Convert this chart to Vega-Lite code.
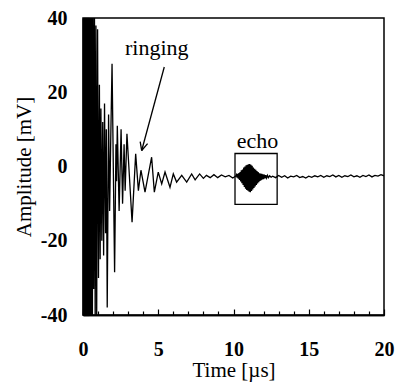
{
  "$schema": "https://vega.github.io/schema/vega-lite/v6.json",
  "width": 301,
  "height": 297,
  "autosize": "none",
  "padding": {"left": 83, "top": 18, "right": 15, "bottom": 69},
  "background": "white",
  "config": {
    "view": {"stroke": "black", "strokeWidth": 1.5},
    "font": "Liberation Serif",
    "axis": {
      "grid": false,
      "domainColor": "black",
      "domainWidth": 1.5,
      "tickColor": "black",
      "tickWidth": 1.2,
      "tickSize": -5,
      "labelColor": "black",
      "labelFont": "Liberation Serif",
      "labelFontSize": 20,
      "labelFontWeight": "bold",
      "titleColor": "black",
      "titleFont": "Liberation Serif",
      "titleFontSize": 21,
      "titleFontWeight": "normal"
    }
  },
  "resolve": {"axis": {"x": "independent", "y": "independent"}},
  "datasets": {
    "wave": [
      {"t":0,"v":0},{"t":0.02,"v":60},{"t":0.06,"v":-60},{"t":0.1,"v":60},{"t":0.14,"v":-60},{"t":0.18,"v":60},{"t":0.22,"v":-60},{"t":0.26,"v":60},{"t":0.3,"v":-60},{"t":0.34,"v":60},{"t":0.38,"v":-60},{"t":0.42,"v":60},{"t":0.46,"v":-60},{"t":0.5,"v":60},{"t":0.54,"v":-60},{"t":0.58,"v":60},{"t":0.62,"v":-55},{"t":0.66,"v":50},
      {"t":0.71,"v":-33},{"t":0.76,"v":46},{"t":0.81,"v":-44},{"t":0.86,"v":38},{"t":0.91,"v":-40},{"t":0.97,"v":37},{"t":1.03,"v":-30},{"t":1.09,"v":22},{"t":1.14,"v":-25},{"t":1.19,"v":15.6},{"t":1.25,"v":-20},{"t":1.31,"v":12},{"t":1.37,"v":-24},{"t":1.43,"v":17},{"t":1.5,"v":-18},{"t":1.55,"v":10},{"t":1.61,"v":-38},{"t":1.7,"v":14},{"t":1.77,"v":-12},{"t":1.85,"v":9},{"t":1.93,"v":27.7},{"t":2.1,"v":-28.5},{"t":2.19,"v":6},{"t":2.23,"v":-4},{"t":2.28,"v":11},{"t":2.4,"v":-12},{"t":2.53,"v":10},{"t":2.63,"v":-10},{"t":2.73,"v":6},{"t":2.8,"v":-6.5},{"t":2.92,"v":8.8},{"t":3.26,"v":-15},{"t":3.5,"v":3.4},{"t":3.68,"v":-6.5},{"t":3.85,"v":-1},{"t":4.12,"v":-6.9},{"t":4.56,"v":2.5},{"t":4.74,"v":-6.9},{"t":5.0,"v":-1.5},{"t":5.23,"v":-4.7},{"t":5.45,"v":-1.5},{"t":5.78,"v":-5.6},{"t":6.0,"v":-2},{"t":6.22,"v":-4.2},{"t":6.56,"v":-2.4},{"t":6.89,"v":-4.2},{"t":7.22,"v":-2},{"t":7.45,"v":-3.6},{"t":7.75,"v":-2},
      {"t":8.0,"v":-3.2},{"t":8.2,"v":-2.4},{"t":8.45,"v":-3.0},{"t":8.7,"v":-2.2},{"t":8.95,"v":-3.0},{"t":9.2,"v":-2.3},{"t":9.45,"v":-2.8},{"t":9.7,"v":-2.4},{"t":9.95,"v":-3.1},{"t":10.15,"v":-2.6},
      {"t":10.2,"v":-2.2},{"t":10.24,"v":-3.0},{"t":10.28,"v":-2.0},{"t":10.32,"v":-3.3},{"t":10.36,"v":-1.8},{"t":10.4,"v":-3.6},{"t":10.44,"v":-1.5},{"t":10.48,"v":-4.0},{"t":10.52,"v":-1.0},{"t":10.56,"v":-4.5},{"t":10.6,"v":-0.8},{"t":10.64,"v":-5.0},{"t":10.68,"v":-0.3},{"t":10.72,"v":-5.5},{"t":10.76,"v":0.0},{"t":10.8,"v":-6.0},{"t":10.84,"v":0.3},{"t":10.88,"v":-6.3},{"t":10.92,"v":0.5},{"t":10.96,"v":-6.5},{"t":11.0,"v":0.6},{"t":11.04,"v":-6.8},{"t":11.08,"v":0.7},{"t":11.12,"v":-6.9},{"t":11.16,"v":0.5},{"t":11.2,"v":-6.6},{"t":11.24,"v":0.2},{"t":11.28,"v":-6.2},{"t":11.32,"v":-0.3},{"t":11.36,"v":-5.8},{"t":11.4,"v":-0.6},{"t":11.44,"v":-5.4},{"t":11.48,"v":-0.9},{"t":11.52,"v":-5.0},{"t":11.56,"v":-1.2},{"t":11.6,"v":-4.6},{"t":11.64,"v":-1.5},{"t":11.68,"v":-4.2},{"t":11.72,"v":-1.8},{"t":11.76,"v":-3.9},{"t":11.8,"v":-1.9},{"t":11.84,"v":-3.7},{"t":11.88,"v":-2.0},{"t":11.92,"v":-3.5},{"t":11.96,"v":-2.1},{"t":12.0,"v":-3.4},{"t":12.05,"v":-2.2},{"t":12.1,"v":-3.2},{"t":12.15,"v":-2.3},{"t":12.2,"v":-3.1},{"t":12.26,"v":-2.4},{"t":12.32,"v":-3.0},{"t":12.4,"v":-2.5},{"t":12.5,"v":-2.9},
      {"t":12.6,"v":-2.6},{"t":12.8,"v":-3.0},{"t":13.0,"v":-2.4},{"t":13.2,"v":-2.9},{"t":13.4,"v":-2.5},{"t":13.6,"v":-3.1},{"t":13.8,"v":-2.6},{"t":14.0,"v":-2.8},{"t":14.2,"v":-2.4},{"t":14.4,"v":-3.0},{"t":14.6,"v":-2.7},{"t":14.8,"v":-3.1},{"t":15.0,"v":-2.6},{"t":15.2,"v":-2.9},{"t":15.4,"v":-2.5},{"t":15.6,"v":-2.8},{"t":15.8,"v":-2.4},{"t":16.0,"v":-2.9},{"t":16.2,"v":-2.5},{"t":16.4,"v":-2.7},{"t":16.6,"v":-2.3},{"t":16.8,"v":-2.8},{"t":17.0,"v":-2.4},{"t":17.2,"v":-2.9},{"t":17.4,"v":-2.5},{"t":17.6,"v":-2.7},{"t":17.8,"v":-2.3},{"t":18.0,"v":-2.8},{"t":18.2,"v":-2.5},{"t":18.4,"v":-2.9},{"t":18.6,"v":-2.4},{"t":18.8,"v":-2.7},{"t":19.0,"v":-2.3},{"t":19.2,"v":-2.8},{"t":19.4,"v":-2.4},{"t":19.6,"v":-2.6},{"t":19.8,"v":-2.2},{"t":20.0,"v":-2.5}
    ],
    "box": [{"t": 10.1, "t2": 12.9, "v": -10.2, "v2": 3.5}],
    "arrow": [
      {"t": 5.4, "v": 26.8, "t2": 3.9, "v2": 4.3},
      {"t": 4.29, "v": 6.17, "t2": 3.9, "v2": 4.3},
      {"t": 3.8, "v": 6.7, "t2": 3.9, "v2": 4.3}
    ],
    "notes": [
      {"t": 4.9, "v": 30, "label": "ringing"},
      {"t": 11.6, "v": 5.0, "label": "echo"}
    ]
  },
  "layer": [
    {
      "data": {"name": "wave"},
      "mark": {"type": "line", "color": "black", "strokeWidth": 1.3, "clip": true},
      "encoding": {
        "x": {
          "field": "t", "type": "quantitative",
          "scale": {"domain": [0, 20], "nice": false, "zero": false},
          "axis": {
            "orient": "bottom",
            "title": null,
            "values": [0,1,2,3,4,6,7,8,9,11,12,13,14,16,17,18,19],
            "labels": false,
            "tickSize": -4
          }
        },
        "y": {
          "field": "v", "type": "quantitative",
          "scale": {"domain": [-40, 40], "nice": false, "zero": false},
          "axis": {
            "orient": "left",
            "title": null,
            "values": [-36,-32,-28,-24,-16,-12,-8,-4,4,8,12,16,24,28,32,36],
            "labels": false,
            "tickSize": -4
          }
        }
      }
    },
    {
      "data": {"name": "box"},
      "mark": {"type": "rect", "fillOpacity": 0, "stroke": "black", "strokeWidth": 1.3},
      "encoding": {
        "x": {
          "field": "t", "type": "quantitative",
          "axis": {
            "orient": "bottom",
            "title": "Time [µs]",
            "values": [0, 5, 10, 15, 20],
            "labelExpr": "'' + datum.value",
            "labelPadding": 30,
            "titlePadding": 0,
            "labelFlush": false,
            "tickSize": -6
          }
        },
        "x2": {"field": "t2"},
        "y": {
          "field": "v", "type": "quantitative",
          "axis": {
            "orient": "left",
            "title": "Amplitude [mV]",
            "values": [-40, -20, 0, 20, 40],
            "labelExpr": "'' + datum.value",
            "labelPadding": 22,
            "titlePadding": 6,
            "labelFlush": false,
            "tickSize": -6
          }
        },
        "y2": {"field": "v2"}
      }
    },
    {
      "data": {"name": "arrow"},
      "mark": {"type": "rule", "color": "black", "strokeWidth": 1.3},
      "encoding": {
        "x": {"field": "t", "type": "quantitative", "axis": null},
        "x2": {"field": "t2"},
        "y": {"field": "v", "type": "quantitative", "axis": null},
        "y2": {"field": "v2"}
      }
    },
    {
      "data": {"name": "notes"},
      "mark": {"type": "text", "font": "Liberation Serif", "fontSize": 22, "align": "center", "baseline": "alphabetic", "color": "black"},
      "encoding": {
        "x": {"field": "t", "type": "quantitative", "axis": null},
        "y": {"field": "v", "type": "quantitative", "axis": null},
        "text": {"field": "label"}
      }
    }
  ]
}
